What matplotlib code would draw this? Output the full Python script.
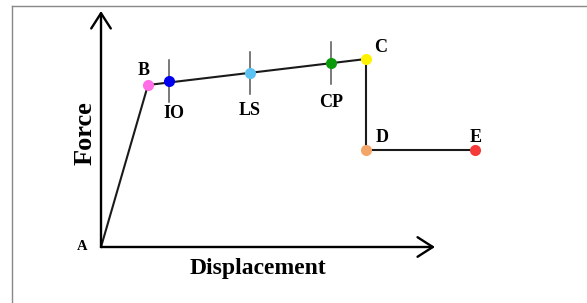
import matplotlib
matplotlib.use("Agg")
import matplotlib.pyplot as plt
from matplotlib.lines import Line2D

# Data (arbitrary units, origin at point A)
points = ["A", "B", "C", "D", "E"]
disp = [0, 47, 265, 265, 374]
force = [0, 162, 188, 97, 97]

levels = ["IO", "LS", "CP"]
level_disp = [68, 149, 230]
level_force = [166, 174, 184]

point_colors = {"B": "#FF6EE6", "C": "#FFF200", "D": "#F4A66A", "E": "#F53A3A"}
level_colors = {"IO": "#0000EE", "LS": "#5BC2F2", "CP": "#0A9A0A"}

fig = plt.figure(figsize=(5.87, 3.03), dpi=100)
ax = fig.add_axes([0, 0, 1, 1])
ax.set_xlim(-101, 486)
ax.set_ylim(-56, 247)
ax.axis("off")

# frame border (gray)
fig.add_artist(Line2D([12 / 587, 12 / 587], [0, 1 - 6 / 303], transform=fig.transFigure,
                      color="#888888", lw=1.0))
fig.add_artist(Line2D([12 / 587, 1], [1 - 6 / 303, 1 - 6 / 303], transform=fig.transFigure,
                      color="#888888", lw=1.0))

# axes arrows
arrow = dict(arrowstyle="->,head_length=0.5,head_width=0.32", lw=1.7, color="black",
             shrinkA=0, shrinkB=0, mutation_scale=22)
ax.annotate("", xy=(0, 236), xytext=(0, 0), arrowprops=arrow)
ax.annotate("", xy=(334, 0), xytext=(0, 0), arrowprops=arrow)

# curve
ax.plot(disp, force, color="#1a1a1a", lw=1.5, zorder=2)

# performance level ticks
for name, x, y in zip(levels, level_disp, level_force):
    ax.plot([x, x], [y - 21, y + 21], color="#555555", lw=1.1, zorder=1)
    ax.plot(x, y, "o", color=level_colors[name], ms=8, mec="none", zorder=3)

for name, x, y in zip(points[1:], disp[1:], force[1:]):
    ax.plot(x, y, "o", color=point_colors[name], ms=8, mec="none", zorder=3)

font = dict(family="Liberation Serif", fontweight="bold")
lab = 13
ax.text(43, 172, "B", fontsize=lab, ha="center", va="baseline", **font)
ax.text(280, 195, "C", fontsize=lab, ha="center", va="baseline", **font)
ax.text(281, 105, "D", fontsize=lab, ha="center", va="baseline", **font)
ax.text(375, 105, "E", fontsize=lab, ha="center", va="baseline", **font)
ax.text(-19, -3, "A", fontsize=10.5, ha="center", va="baseline", **font)
ax.text(73, 129, "IO", fontsize=lab, ha="center", va="baseline", **font)
ax.text(149, 132, "LS", fontsize=lab, ha="center", va="baseline", **font)
ax.text(230, 140, "CP", fontsize=lab, ha="center", va="baseline", **font)

ax.text(157, -27, "Displacement", fontsize=17, ha="center", va="baseline", **font)
ax.text(-16, 114, "Force", fontsize=19, ha="center", va="center", rotation=90, **font)

fig.savefig("out.png", dpi=100)
